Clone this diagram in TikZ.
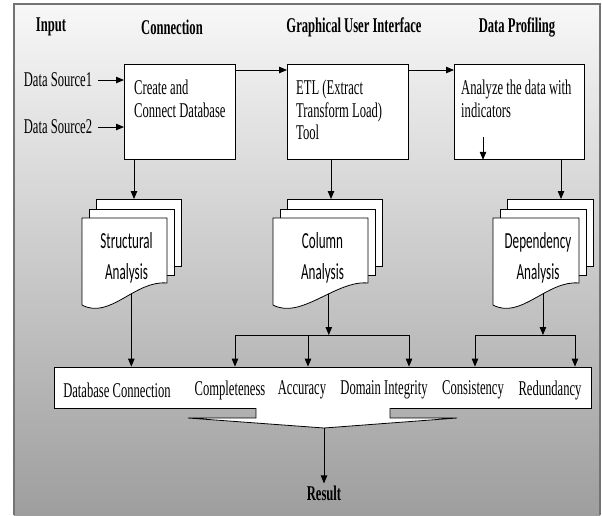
\documentclass[tikz,border=0pt]{standalone}
\usepackage{fontspec}
\setmainfont{Liberation Serif}[FakeStretch=0.6]
\newfontfamily\calfont{Carlito}[FakeStretch=0.57]
\usetikzlibrary{arrows.meta}
\tikzstyle{box}=[draw,fill=white,line width=0.8pt,inner sep=0]
\tikzstyle{txt}=[font=\fontsize{21}{22.5}\selectfont,inner sep=2pt]
\tikzstyle{head}=[inner sep=2pt,font=\fontsize{21}{22.5}\selectfont\bfseries]
\tikzstyle{page}=[draw,fill=white,line width=0.8pt]
\tikzstyle{doctext}=[font=\calfont\fontsize{23}{31}\selectfont,align=center,inner sep=0]
\tikzstyle{arr}=[line width=0.8pt,-{Triangle[length=8pt,width=6.5pt]}]
\tikzstyle{ln}=[line width=0.8pt]

% stacked document symbol: name, left x, width, arrow x, text
\newcommand{\docstack}[5]{
  \draw[page] (#2+14,199) rectangle ++(#3,67);
  \draw[page] (#2+7,209) rectangle ++(#3,66);
  \draw[page] (#2,218) -- ++(#3,0) -- ++(0,65)
    .. controls +(-32,-3) and +(28,15) .. coordinate[pos=0.4] (#1bot) (#2,305) -- cycle;
  \node[doctext] (#1) at (#2+#3/2+2,258) {#5};
  \coordinate (#1in) at (#4,199);
}

\begin{document}
\begin{tikzpicture}[x=1pt,y=-1pt]
  \useasboundingbox (0,0) rectangle (602,515);
  \shade[top color=black!3,bottom color=black!38] (14,4) rectangle (600,515);
  \draw[black!55,line width=1.2pt] (14,515) -- (14,4) -- (600,4) -- (600,515);

  % headers
  \node[head] (hin) at (51,27) {Input};
  \node[head] (hcon) at (172,27) {Connection};
  \node[head] (hgui) at (354,27) {Graphical User Interface};
  \node[head] (hdp) at (517,27) {Data Profiling};

  % top row
  \node[box,minimum width=111pt,minimum height=95pt,anchor=north west] (cd) at (124,64) {};
  \node[box,minimum width=121pt,minimum height=95pt,anchor=north west] (etl) at (287,64) {};
  \node[box,minimum width=130pt,minimum height=95pt,anchor=north west] (an) at (454,64) {};
  \node[txt,anchor=north west,align=left] (cdt) at ([shift={(8,14)}]cd.north west) {Create and\\Connect Database};
  \node[txt,anchor=north west,align=left] (etlt) at ([shift={(7,14)}]etl.north west) {ETL (Extract\\Transform Load)\\Tool};
  \node[txt,anchor=north west,align=left] (ant) at ([shift={(5,14)}]an.north west) {Analyze the data with\\indicators};

  \node[txt] (ds1) at (58,80) {Data Source1};
  \node[txt] (ds2) at (58,127) {Data Source2};
  \draw[arr] ([xshift=4pt]ds1.east) -- (ds1 -| cd.west);
  \draw[arr] ([xshift=4pt]ds2.east) -- (ds2 -| cd.west);
  \draw[arr] ([yshift=-6pt]cd.north east) -- ([yshift=-6pt]etl.north west);
  \draw[arr] ([yshift=-6pt]etl.north east) -- ([yshift=-6pt]an.north west);
  \coordinate (ai) at (483,137);
  \draw[arr] (ai) -- (ai |- an.south);

  % analysis documents
  \docstack{sa}{82}{85}{134}{Structural\\Analysis}
  \docstack{ca}{273}{95}{331}{Column\\Analysis}
  \docstack{da}{493}{86}{561}{Dependency\\Analysis}
  \draw[arr] (cd.south -| sain) -- (sain);
  \draw[arr] (etl.south -| cain) -- (cain);
  \draw[arr] (an.south -| dain) -- (dain);

  % indicators
  \node[box,minimum width=537pt,minimum height=41pt] (res) at (322.5,387.5) {};
  \node[txt] (dbc) at (117,390) {Database Connection};
  \node[txt] (cmp) at (230,390) {Completeness};
  \node[txt] (acc) at (302,390) {Accuracy};
  \node[txt] (dom) at (384,390) {Domain Integrity};
  \node[txt] (cns) at (473,390) {Consistency};
  \node[txt] (red) at (550,390) {Redundancy};

  \coordinate (c1) at (235,335);
  \coordinate (c2) at (308,335);
  \coordinate (c3) at (409,335);
  \coordinate (d1) at (475,335);
  \coordinate (d2) at (575,335);
  \draw[ln] (c1) -- (c3);
  \draw[ln] (d1) -- (d2);
  \draw[arr] (cabot) -- (cabot |- c1);
  \draw[arr] (dabot) -- (dabot |- d1);
  \foreach \c in {c1,c2,c3,d1,d2}
    \draw[arr] (\c) -- (\c |- res.north);
  \draw[arr] (sabot) -- (sabot |- res.north);

  % result arrow
  \fill[white] (256,406) -- (256,418) -- (188,418) -- (324,428) -- (457,418) -- (390,418) -- (390,406) -- cycle;
  \draw[ln] (256,408) -- (256,418) -- (188,418) -- (324,428) coordinate (tip) -- (457,418) -- (390,418) -- (390,408);
  \node[head] (rsl) at (324,493) {Result};
  \draw[arr] (tip) -- (rsl);
\end{tikzpicture}
\end{document}
